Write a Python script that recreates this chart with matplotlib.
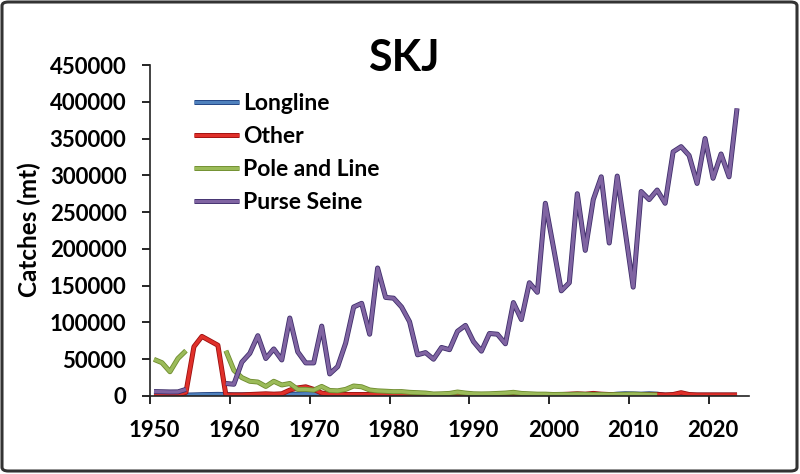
import numpy as np
import matplotlib
matplotlib.use("Agg")
import matplotlib.pyplot as plt
import matplotlib.patheffects as pe
from matplotlib.patches import FancyBboxPatch

plt.rcParams['font.family'] = ['Lato', 'DejaVu Sans']

years = list(range(1950, 2024))
nan = np.nan

longline = [300, 500, 800, 1000, 1200, 1500, 1800, 2000, 2200, 2000,
            1500, 1500, 1500, 1500, 1500, 1800, 2000, 2200, 2500, 3000,
            3000, 2500, 1500, 1200, 1000, 1000, 1000, 1000, 1000, 1000,
            1000, 1000, 1000, 1000, 1000, 1000, 1000, 1000, 1000, 1000,
            1000, 1000, 1000, 1000, 1000, 1000, 1000, 1000, 1000, 1000,
            1000, 1000, 1000, 1200, 1500, 1500, 1500, 1500, 2500, 3000,
            2800, 2500, 3000, 2500, 1000, 1000, 1000, 1000, 1000, 1000,
            1000, 1000, 1000, 1000]

other = [1500, 1500, 1500, 1500, 5000, 67000, 81000, 75000, 69000, 1500,
         1500, 1500, 2000, 2500, 3000, 2500, 3000, 8000, 11000, 12500,
         9000, 4000, 2500, 2500, 2000, 2000, 2000, 2000, 2000, 2000,
         2000, 2000, 2000, 2000, 2000, 2000, 2000, 2000, 2000, 2000,
         2000, 2000, 2000, 2000, 2000, 2000, 2000, 2000, 2000, 2000,
         2000, 2000, 2500, 3000, 2500, 3500, 2500, 2000, 2000, 2000,
         2000, 2000, 2000, 2000, 1500, 2000, 4500, 2000, 1500, 1500,
         1500, 1500, 1500, 1500]

pole_and_line = [49800, 45300, 33000, 51000, 61600, nan, nan, nan, nan, 61600,
                 35000, 25000, 20000, 19000, 13000, 20000, 15000, 17000, 9000, 9000,
                 8000, 13000, 7500, 7000, 9000, 13600, 12500, 8200, 7000, 6500,
                 5900, 6000, 5000, 4500, 4000, 2700, 3000, 3500, 5400, 4000,
                 3000, 2800, 3000, 3500, 4000, 5000, 3500, 3000, 2500, 2500,
                 2000, 2200, 2000, 2500, 2200, 2000, 2000, 1800, 2000, 2200,
                 2500, 2000, 1800, 1500, nan, nan, nan, nan, nan, nan,
                 nan, nan, nan, nan]

purse_seine = [6000, 5800, 5500, 5600, 9000, nan, nan, nan, nan, 17000,
               16000, 46000, 58000, 82000, 51000, 64000, 49000, 106000, 60000, 45000,
               45000, 95000, 30000, 40000, 72000, 121000, 126000, 84000, 174000, 134000,
               133000, 121000, 101000, 56000, 59000, 50000, 66000, 63000, 88000, 96000,
               74000, 61000, 85000, 84000, 71000, 127000, 104000, 154000, 141000, 262000,
               203000, 143000, 154000, 275000, 198000, 267000, 298000, 208000, 299000, 224000,
               148000, 278000, 267000, 280000, 262000, 332000, 339000, 327000, 289000, 350000,
               296000, 329000, 298000, 391000]

series_names = ["Longline", "Other", "Pole and Line", "Purse Seine"]
series_values = [longline, other, pole_and_line, purse_seine]
line_colors = ["#4F81BD", "#E0302A", "#9BBB59", "#8064A2"]
edge_colors = ["#1F3F7F", "#9A1010", "#6E8B2E", "#3F2E6B"]

x_labels = [1950, 1960, 1970, 1980, 1990, 2000, 2010, 2020]
y_ticks = [0, 50000, 100000, 150000, 200000, 250000, 300000, 350000, 400000, 450000]

fig = plt.figure(figsize=(8, 4.74), dpi=100)
fig.patch.set_facecolor("white")
ax = fig.add_axes([150 / 800, 78 / 474, 599 / 800, 331 / 474])

for name, vals, c, ec in zip(series_names, series_values, line_colors, edge_colors):
    ax.plot(years, vals, color=c, lw=2.4, label=name, solid_capstyle='butt',
            path_effects=[pe.Stroke(linewidth=3.6, foreground=ec), pe.Normal()])

ax.set_xlim(1949.5, 2024.5)
ax.set_ylim(0, 450000)
ax.set_yticks(y_ticks)
ax.set_yticklabels([str(v) for v in y_ticks])
ax.set_xticks(x_labels)
ax.set_xticklabels([str(v) for v in x_labels])
ax.set_xticks([v - 0.5 for v in x_labels], minor=True)
ax.tick_params(axis='x', which='major', length=0, pad=17, labelsize=16)
ax.tick_params(axis='x', which='minor', length=6, width=1.2, direction='out')
ax.tick_params(axis='y', which='major', length=6, width=1.2, direction='out', pad=11, labelsize=16)
for lab in ax.get_xticklabels() + ax.get_yticklabels():
    lab.set_fontweight('bold')
for s in ['top', 'right']:
    ax.spines[s].set_visible(False)
for s in ['left', 'bottom']:
    ax.spines[s].set_linewidth(1.2)
    ax.spines[s].set_color('#222222')

leg = fig.legend(loc='upper left', bbox_to_anchor=(194 / 800, 1 - 93 / 474),
                 frameon=False, borderpad=0, borderaxespad=0,
                 handlelength=1.95, handletextpad=0.2, labelspacing=0.52,
                 prop={'size': 16.5, 'weight': 'bold'})

fig.text(404 / 800, 1 - 71 / 474, "SKJ", ha='center', va='baseline',
         fontsize=31, fontweight='bold')
fig.text(29 / 800, 1 - 230 / 474, "Catches (mt)", ha='center', va='center',
         rotation=90, fontsize=17.5, fontweight='bold')

border = FancyBboxPatch((2 / 800, 3 / 474), 795 / 800, 469 / 474,
                        boxstyle="round,pad=0,rounding_size=0.008",
                        transform=fig.transFigure, fill=False,
                        ec='#333333', lw=2.2)
fig.patches.append(border)

fig.savefig("out.png", dpi=100, facecolor="white")
